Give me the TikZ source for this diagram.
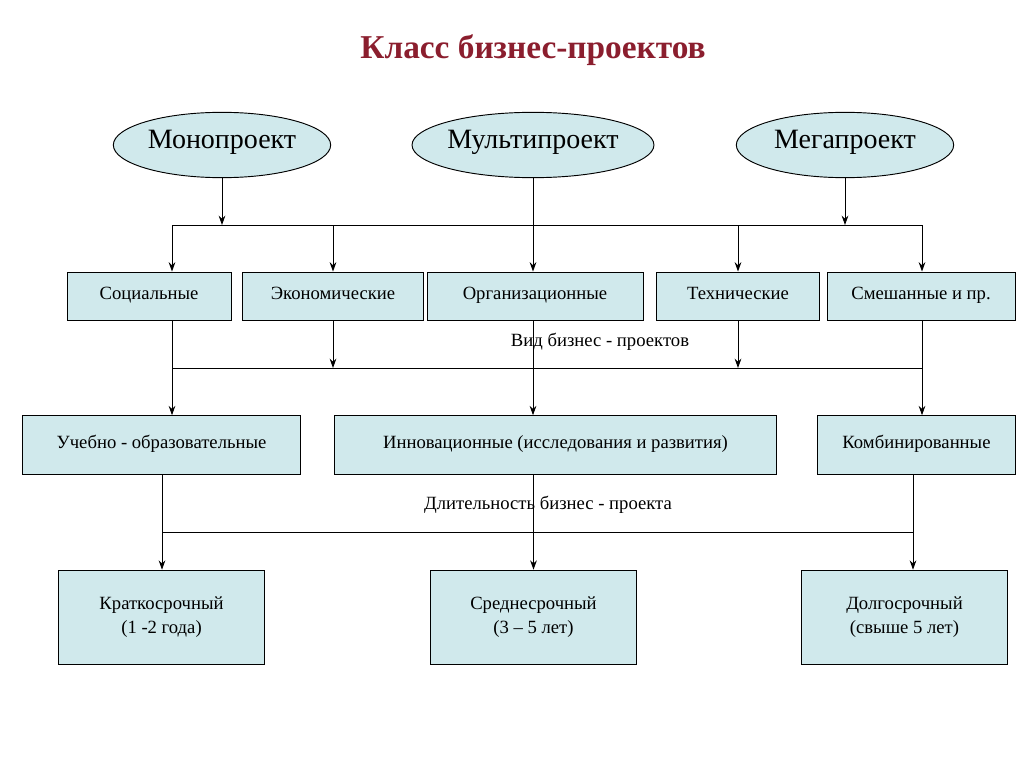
\documentclass[tikz,border=0pt]{standalone}
\usepackage{fontspec}
\setmainfont{Liberation Serif}
\usetikzlibrary{shapes.geometric, arrows.meta, positioning, calc}
\definecolor{boxfill}{HTML}{D0E9EC}
\definecolor{titlered}{HTML}{8B1E2E}

\begin{document}
\begin{tikzpicture}[
    x=0.75pt, y=-0.75pt, line width=0.7pt,
    kind/.style={ellipse, draw=black, fill=boxfill, minimum width=163pt, minimum height=49pt, inner sep=0pt, font=\fontsize{21}{23}\selectfont, text height=1.5ex, text depth=.3ex},
    item/.style={rectangle, draw=black, fill=boxfill, minimum height=36pt, inner sep=0pt, align=center, font=\fontsize{14}{16}\selectfont, text height=1.5ex, text depth=.3ex},
    term/.style={rectangle, draw=black, fill=boxfill, minimum width=155pt, minimum height=71pt, inner sep=0pt, align=center, font=\fontsize{14}{18}\selectfont},
    caption/.style={font=\fontsize{14}{16}\selectfont},
    arrow/.style={-{Stealth[length=7pt,width=5pt]}}
]
\useasboundingbox (0,0) rectangle (1024,767);

% Title
\node[font=\fontsize{25}{28}\selectfont\bfseries, text=titlered] (title) at (533,50) {Класс бизнес-проектов};

% Project classes
\node[kind] (mono) at (222,145) {Монопроект};
\node[kind] (multi) at (533,145) {Мультипроект};
\node[kind] (mega) at (845,145) {Мегапроект};

% Kinds of projects
\node[item, minimum width=123pt] (social) at (149,296) {Социальные};
\node[item, minimum width=136pt] (econ) at (333,296) {Экономические};
\node[item, minimum width=162pt] (org) at (535,296) {Организационные};
\node[item, minimum width=122pt] (tech) at (738,296) {Технические};
\node[item, minimum width=141pt] (mixed) at (921,296) {Смешанные и пр.};
\node[caption] (kindlabel) at (600,342) {Вид бизнес - проектов};

% Second row
\node[item, minimum width=208pt, minimum height=44pt] (edu) at (161.5,445) {Учебно - образовательные};
\node[item, minimum width=331pt, minimum height=44pt] (innov) at (555.5,445) {Инновационные (исследования и развития)};
\node[item, minimum width=148pt, minimum height=44pt] (comb) at (916.5,445) {Комбинированные};
\node[caption] (durlabel) at (548,505) {Длительность бизнес - проекта};

% Duration
\node[term] (short) at (161.5,617.5) {Краткосрочный\\ (1 -2 года)};
\node[term] (mid) at (533.5,617.5) {Среднесрочный\\ (3 – 5 лет)};
\node[term] (long) at (904.5,617.5) {Долгосрочный\\ (свыше 5 лет)};

% Upper bus
\coordinate (busA) at (172,225);
\coordinate (busB) at (922,225);
\draw (busA) -- (busB);
\draw[arrow] (mono) -- (mono |- busA);
\draw[arrow] (mega) -- (mega |- busA);
\draw[arrow] (multi) -- (multi |- org.north);
\draw[arrow] (busA) -- (busA |- social.north);
\draw[arrow] (econ |- busA) -- (econ.north);
\draw[arrow] (tech |- busA) -- (tech.north);
\draw[arrow] (busB) -- (busB |- mixed.north);

% Middle bus
\coordinate (midA) at (172,368);
\coordinate (midB) at (922,368);
\draw (midA) -- (midB);
\draw[arrow] (social.south -| midA) -- (midA |- edu.north);
\draw[arrow] (econ) -- (econ |- midA);
\draw[arrow] (tech) -- (tech |- midA);
\draw[arrow] (multi |- org.south) -- (multi |- innov.north);
\draw[arrow] (mixed.south -| midB) -- (midB |- comb.north);

% Lower bus
\coordinate (lowA) at (162,532);
\coordinate (lowB) at (913,532);
\draw (lowA) -- (lowB);
\draw[arrow] (edu.south -| lowA) -- (lowA |- short.north);
\draw[arrow] (mid |- innov.south) -- (mid.north);
\draw[arrow] (comb.south -| lowB) -- (lowB |- long.north);

\end{tikzpicture}
\end{document}
